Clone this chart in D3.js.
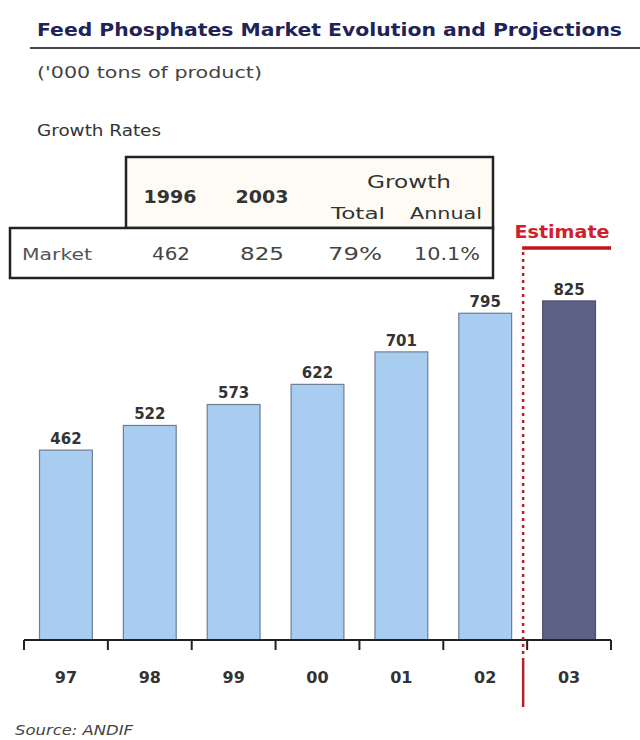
<!DOCTYPE html>
<html><head><meta charset="utf-8">
<script src="https://cdn.jsdelivr.net/npm/d3@7"></script>
<style>body{margin:0;background:#fff;} svg{display:block;font-family:"DejaVu Sans",Verdana,sans-serif;}</style>
</head><body>
<script>
const categories = ["97","98","99","00","01","02","03"];
const values = [462,522,573,622,701,795,825];
const estimateFlags = [false,false,false,false,false,false,true];
const tableHeaders = ["1996","2003"];
const tableRowLabel = "Market";
const tableRowValues = ["462","825","79%","10.1%"];

const W=640,H=740;
const svg=d3.select("body").append("svg").attr("width",W).attr("height",H);

function txt(x,y,s,size,opts){
  opts=opts||{};
  const t=svg.append("text").attr("x",x).attr("y",y).attr("font-size",size)
    .attr("fill",opts.fill||"#333").text(s);
  if(opts.bold) t.attr("font-weight","bold");
  if(opts.italic) t.attr("font-style","italic");
  if(opts.anchor) t.attr("text-anchor",opts.anchor);
  if(opts.len) t.attr("textLength",opts.len).attr("lengthAdjust","spacingAndGlyphs");
  return t;
}

// title
txt(37,36,"Feed Phosphates Market Evolution and Projections",18,{bold:true,fill:"#1f2357",len:585});
svg.append("line").attr("x1",30).attr("x2",640).attr("y1",48).attr("y2",48).attr("stroke","#444").attr("stroke-width",2);
txt(37,78,"('000 tons of product)",15,{fill:"#444",len:225});
txt(37,136,"Growth Rates",16,{fill:"#333",len:124});

// table
svg.append("rect").attr("x",126).attr("y",157).attr("width",367).attr("height",71)
  .attr("fill","#fdfbf3").attr("stroke","#222").attr("stroke-width",2.5);
svg.append("rect").attr("x",10).attr("y",228).attr("width",483).attr("height",50)
  .attr("fill","#fff").attr("stroke","#222").attr("stroke-width",2.5);
const hx=[170,262];
tableHeaders.forEach((t,i)=>txt(hx[i],203,t,18,{bold:true,anchor:"middle",len:53}));
txt(409,188,"Growth",18,{anchor:"middle",len:84});
txt(358,219,"Total",16,{anchor:"middle",len:54});
txt(446,219,"Annual",16,{anchor:"middle",len:72});
txt(22,260,tableRowLabel,16,{fill:"#555",len:70});
const rx=[171,262,355,447];
const rlen=[38,44,54,66];
tableRowValues.forEach((t,i)=>txt(rx[i],260,t,17,{anchor:"middle",fill:"#444",len:rlen[i]}));

// scales
const x=d3.scaleBand().domain(categories).range([24,611]).paddingInner(0.37).paddingOuter(0.185);
const y=d3.scaleLinear().domain([0,1000]).range([640,229]);

// bars
svg.selectAll("rect.bar").data(values).enter().append("rect").attr("class","bar")
  .attr("x",(d,i)=>x(categories[i])).attr("width",x.bandwidth())
  .attr("y",d=>y(d)).attr("height",d=>y(0)-y(d))
  .attr("fill",(d,i)=>estimateFlags[i]?"#5e6186":"#a9cdf0")
  .attr("stroke",(d,i)=>estimateFlags[i]?"#4d5070":"#6f7f90").attr("stroke-width",1.2);
svg.selectAll("text.val").data(values).enter().append("text").attr("class","val")
  .attr("x",(d,i)=>x(categories[i])+x.bandwidth()/2).attr("y",d=>y(d)-6)
  .attr("text-anchor","middle").attr("font-size",15).attr("font-weight","bold").attr("fill","#333").text(d=>d);

// axis
const gap=(x.step()-x.bandwidth())/2;
const bounds=categories.map(c=>x(c)-gap).concat([x(categories[categories.length-1])+x.bandwidth()+gap]);
svg.append("line").attr("x1",bounds[0]).attr("x2",bounds[bounds.length-1]).attr("y1",y(0)).attr("y2",y(0))
  .attr("stroke","#222").attr("stroke-width",2);
svg.selectAll("line.tick").data(bounds).enter().append("line").attr("class","tick")
  .attr("x1",d=>d).attr("x2",d=>d).attr("y1",y(0)).attr("y2",y(0)+10).attr("stroke","#222").attr("stroke-width",2);
svg.selectAll("text.cat").data(categories).enter().append("text").attr("class","cat")
  .attr("x",d=>x(d)+x.bandwidth()/2).attr("y",683).attr("text-anchor","middle")
  .attr("font-size",16).attr("font-weight","bold").attr("fill","#333").text(d=>d);

// estimate marker
const ex=bounds[6]-4;
svg.append("line").attr("x1",ex).attr("x2",ex).attr("y1",252).attr("y2",y(0)+20)
  .attr("stroke","#b5202a").attr("stroke-width",2.5).attr("stroke-dasharray","3,4");
svg.append("line").attr("x1",ex).attr("x2",ex).attr("y1",y(0)+20).attr("y2",707)
  .attr("stroke","#b5202a").attr("stroke-width",2.5);
svg.append("line").attr("x1",ex-1).attr("x2",611).attr("y1",248).attr("y2",248)
  .attr("stroke","#c0141e").attr("stroke-width",3.5);
txt(562,238,"Estimate",17,{bold:true,anchor:"middle",fill:"#d0202e",len:95});

// source
txt(15,735,"Source: ANDIF",14,{italic:true,fill:"#444",len:118});
</script>
</body></html>
